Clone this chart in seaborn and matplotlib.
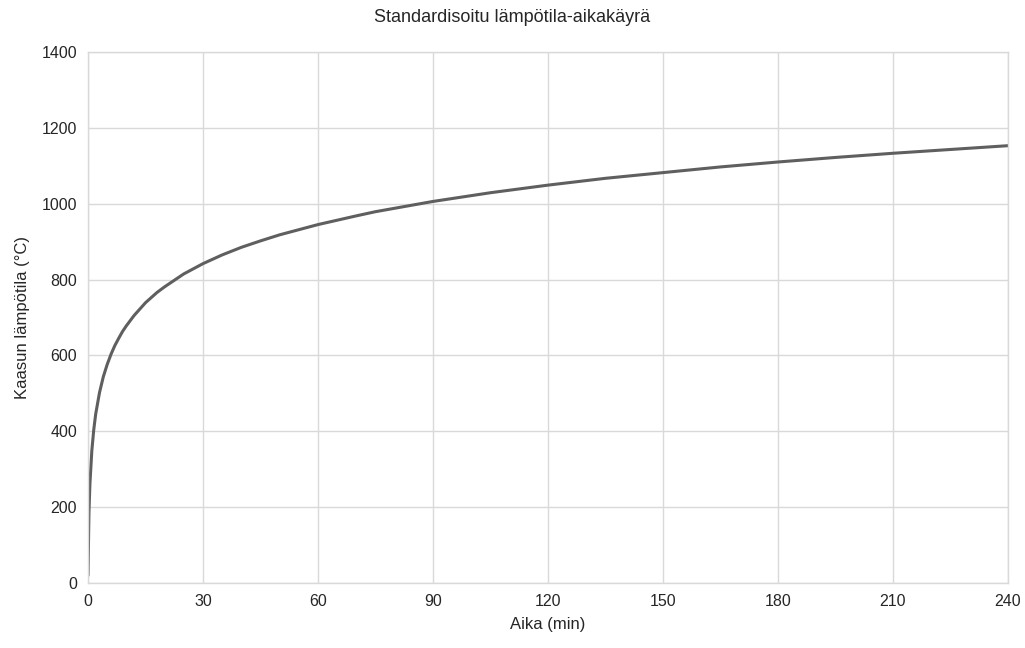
import matplotlib
matplotlib.use("Agg")
import matplotlib.pyplot as plt
import seaborn as sns
import pandas as pd

# Values
time_min = [0, 0.25, 0.5, 1, 1.5, 2, 3, 4, 5, 6, 7, 8, 9, 10, 12, 15, 18, 20, 25,
            30, 35, 40, 45, 50, 60, 70, 75, 90, 105, 120, 135, 150, 165, 180,
            195, 210, 225, 240]
temp_c = [20, 185, 261, 349, 404, 445, 502, 544, 576, 603, 626, 645, 663, 678,
          705, 739, 766, 781, 815, 842, 865, 885, 902, 918, 945, 968, 979, 1006,
          1029, 1049, 1067, 1082, 1097, 1110, 1122, 1133, 1143, 1153]
x_ticks = [0, 30, 60, 90, 120, 150, 180, 210, 240]
y_ticks = [0, 200, 400, 600, 800, 1000, 1200, 1400]

title = "Standardisoitu lämpötila-aikakäyrä"
xlabel = "Aika (min)"
ylabel = "Kaasun lämpötila (°C)"

sns.set_theme(style="white")
plt.rcParams['font.family'] = ['Liberation Sans', 'DejaVu Sans']

df = pd.DataFrame({"t": time_min, "T": temp_c})

fig = plt.figure(figsize=(10.25, 6.48), dpi=100)
ax = fig.add_axes([88/1025, 1 - 583/648, (1008-88)/1025, (583-52)/648])
sns.lineplot(data=df, x="t", y="T", ax=ax, color="#5f5f5f", linewidth=2.2)

ax.set_xlim(0, 240)
ax.set_ylim(0, 1400)
ax.set_xticks(x_ticks)
ax.set_yticks(y_ticks)
ax.grid(True, color="#d9d9d9", linewidth=1.0)
for s in ["top", "right", "left", "bottom"]:
    ax.spines[s].set_visible(True)
    ax.spines[s].set_color("#d9d9d9")
    ax.spines[s].set_linewidth(1.0)
ax.tick_params(axis="both", labelsize=11.5, colors="#262626", length=0, pad=8)
ax.set_xlabel(xlabel, fontsize=12, color="#262626", labelpad=6)
ax.set_ylabel(ylabel, fontsize=12, color="#262626", labelpad=8)
fig.suptitle(title, fontsize=13, color="#262626", y=1 - 18/648, va="center")

fig.savefig("out.png", dpi=100)
